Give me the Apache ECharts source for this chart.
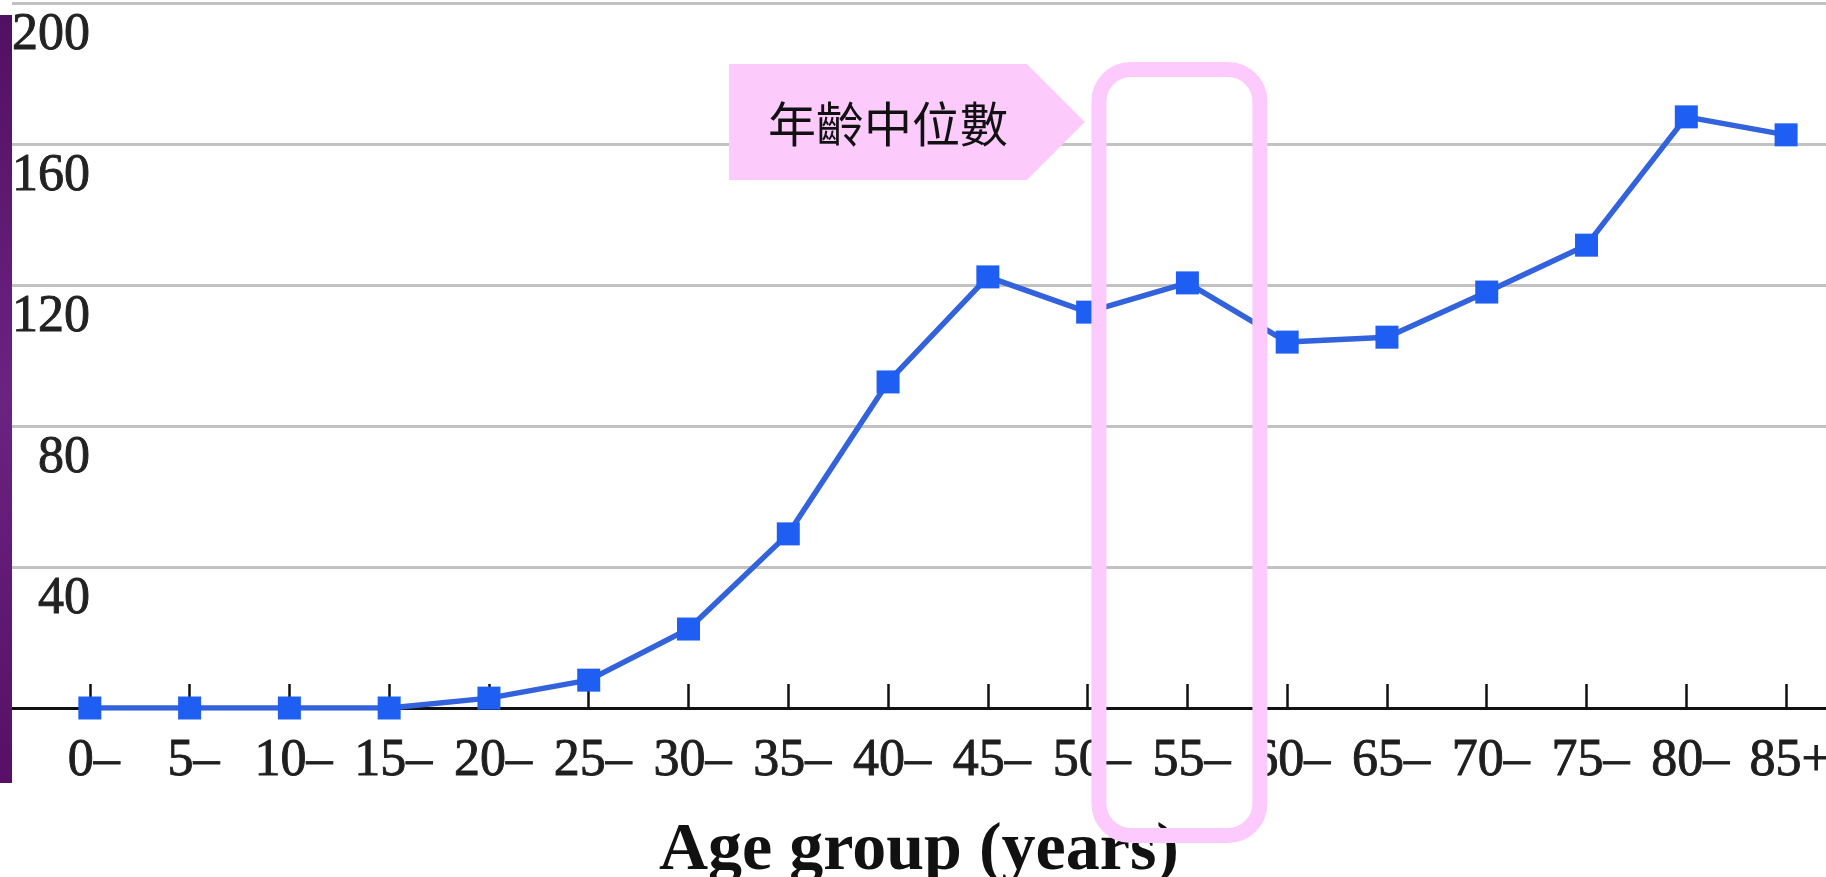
<!DOCTYPE html>
<html>
<head>
<meta charset="utf-8">
<title>Age group rates</title>
<script src="https://cdn.jsdelivr.net/npm/echarts@6/dist/echarts.min.js"></script>
<style>
  html, body { margin: 0; padding: 0; background: #ffffff; }
  #chart { width: 1826px; height: 877px; }
</style>
</head>
<body>
<div id="chart"></div>
<script>
// Age groups along the x axis
const ageGroups = ['0–', '5–', '10–', '15–', '20–', '25–', '30–', '35–', '40–',
  '45–', '50–', '55–', '60–', '65–', '70–', '75–', '80–', '85+'];
// Rate for each age group
const rates = [0, 0, 0, 0, 2.8, 7.9, 22.4, 49.4, 92.5, 122.3, 112.3, 120.6,
  103.8, 105.2, 118, 131.3, 167.7, 162.6];
// Value axis range and step
const yMin = 0;
const yMax = 200;
const yStep = 40;
// Callout text and the age group it points at
const calloutText = '年齡中位數';
const medianGroup = '55–';

const groupIndex = ageGroups.map((_, i) => i);
const seriesData = rates.map((v, i) => [i, v]);

const chart = echarts.init(document.getElementById('chart'), null, { renderer: 'canvas' });

const labelFont = {
  fontFamily: 'Liberation Serif',
  fontSize: 52,
  textBorderWidth: 0.9
};

const option = {
  animation: false,
  backgroundColor: '#ffffff',
  grid: { left: 12, right: 0, top: 3, bottom: 169, containLabel: false, outerBoundsMode: 'none' },
  xAxis: {
    type: 'value',
    min: -0.78,
    max: 17.40,
    splitLine: { show: false },
    axisLine: { show: true, onZero: false, lineStyle: { color: '#111111', width: 3 } },
    axisTick: {
      show: true, inside: true, length: 24, customValues: groupIndex,
      lineStyle: { color: '#111111', width: 2.5 }
    },
    axisLabel: Object.assign({
      customValues: groupIndex,
      formatter: v => ageGroups[Math.round(v)] ?? '',
      margin: 27,
      padding: [0, 0, 0, 8],
      color: '#1e1e1e',
      textBorderColor: '#1e1e1e'
    }, labelFont),
    name: 'Age group (years)',
    nameLocation: 'middle',
    nameGap: 109,
    nameTextStyle: {
      fontFamily: 'Liberation Serif',
      fontWeight: 'bold',
      fontSize: 68,
      color: '#111111'
    }
  },
  yAxis: {
    type: 'value',
    min: yMin,
    max: yMax,
    interval: yStep,
    axisLine: { show: false },
    axisTick: { show: false },
    splitLine: { show: true, lineStyle: { color: '#c2c2c2', width: 3 } },
    axisLabel: Object.assign({
      inside: true,
      margin: 78,
      align: 'right',
      verticalAlign: 'top',
      lineHeight: 64,
      color: '#222222',
      textBorderColor: '#222222',
      formatter: v => (v === 0 ? '' : String(v))
    }, labelFont)
  },
  series: [{
    type: 'line',
    data: seriesData,
    symbol: 'rect',
    symbolSize: 23,
    showSymbol: true,
    z: 5,
    lineStyle: { color: '#3262dc', width: 5.5 },
    itemStyle: { color: '#1f5ef2' }
  }],
  graphic: []
};

chart.setOption(option);

// Decorations positioned from the chart's own scale
const medianIdx = ageGroups.indexOf(medianGroup);
const medianX = chart.convertToPixel({ xAxisIndex: 0 }, medianIdx);
const top200 = chart.convertToPixel({ yAxisIndex: 0 }, yMax);

const boxW = 161;
const boxLeft = medianX - boxW / 2 - 8;
const tipX = boxLeft - 14;
const calloutTop = 64;
const calloutBottom = 180;
const calloutMid = (calloutTop + calloutBottom) / 2;
const calloutLeft = 729;
const slantX = tipX - 58;

chart.setOption({
  graphic: [
    {
      type: 'rect',
      shape: { x: 0, y: 15, width: 12, height: 768 },
      style: {
        fill: new echarts.graphic.LinearGradient(0, 0, 0, 1, [
          { offset: 0, color: '#521062' },
          { offset: 0.5, color: '#6b2381' },
          { offset: 1, color: '#571066' }
        ])
      },
      z: 100
    },
    {
      type: 'polygon',
      shape: {
        points: [
          [calloutLeft, calloutTop], [slantX, calloutTop], [tipX, calloutMid],
          [slantX, calloutBottom], [calloutLeft, calloutBottom]
        ]
      },
      style: { fill: '#fccbfc' },
      z: 100
    },
    {
      type: 'text',
      x: (calloutLeft + slantX) / 2 + 10,
      y: calloutMid + 2,
      style: {
        text: calloutText,
        fontFamily: 'Noto Sans CJK TC',
        fontSize: 48,
        fontWeight: 'normal',
        fill: '#111111',
        align: 'center',
        verticalAlign: 'middle'
      },
      z: 101
    },
    {
      type: 'rect',
      shape: { x: boxLeft, y: top200 + 66.5, width: boxW, height: 766, r: 32 },
      style: { fill: 'none', stroke: '#fccafc', lineWidth: 15 },
      z: 100
    }
  ]
});
</script>
</body>
</html>
